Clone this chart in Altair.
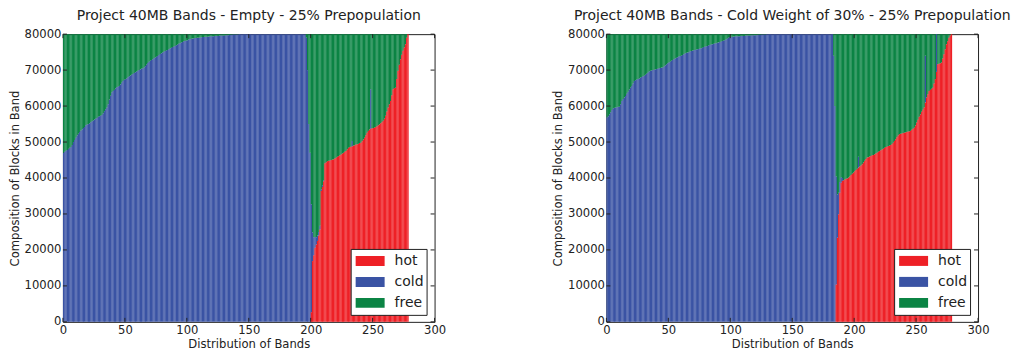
import altair as alt
import pandas as pd

CAPACITY = 80000
CATS = ["hot", "cold", "free"]
COLORS = ["#EE2026", "#3A53A4", "#0B8444"]
X_TICKS = [0, 50, 100, 150, 200, 250, 300]
Y_TICKS = [0, 10000, 20000, 30000, 40000, 50000, 60000, 70000, 80000]
TITLE_1 = "Project 40MB Bands - Empty - 25% Prepopulation"
TITLE_2 = "Project 40MB Bands - Cold Weight of 30% - 25% Prepopulation"

# ---------- Panel 1 (279 bands) ----------
P1_HOT = [0] * 200 + [
    2700, 16900, 18500, 20600, 21500, 22500, 24000, 25700, 36400, 37500, 39100,
] + [
    44100, 44400, 44700, 44800, 44900,
    45000, 45100, 45200, 45400, 45600,
    45900, 46100, 46300, 46500, 46800,
    47000, 47300, 47500, 48000, 48400,
    48600, 48700, 48800, 49000, 49100,
    49300, 49400, 49500, 49700, 49800,
    50200, 50700, 51200, 51900, 52600,
    53100, 53500, 53700, 53800, 53900,
    54000, 54200, 54400, 54700, 54900,
    55200, 55500, 55900, 56500, 57300,
    58500, 59600, 60500, 61400, 63000,
    64700, 65000, 65100, 67500, 69800,
    71500, 73000, 74300, 75400, 76300,
    77200, 79000, 80000,
]
P1_COLD = [
    47000, 47300, 47600, 47800, 48100,
    48400, 48600, 49200, 50000, 50600,
    51200, 51800, 52300, 52800, 53200,
    53500, 53900, 54200, 54700, 54900,
    55000, 55200, 55500, 55800, 56000,
    56300, 56500, 56700, 57000, 57200,
    57300, 57500, 58000, 58600, 59100,
    59600, 60500, 61800, 62900, 63800,
    64200, 64500, 64900, 65200, 65400,
    65600, 66000, 66500, 67000, 67300,
    67500, 67700, 68000, 68300, 68500,
    68700, 68900, 69200, 69400, 69600,
    69800, 70000, 70200, 70400, 70500,
    70700, 71100, 71500, 72000, 72300,
    72600, 72800, 73000, 73300, 73500,
    73700, 73900, 74200, 74500, 74700,
    74900, 75100, 75300, 75500, 75600,
    75800, 76000, 76200, 76400, 76500,
    76700, 76900, 77100, 77300, 77500,
    77700, 77800, 78000, 78100, 78200,
    78300, 78500, 78600, 78700, 78800,
    78800, 78900, 78900, 79000, 79000,
    79100, 79100, 79200, 79200, 79300,
    79300, 79300, 79300, 79400, 79400,
    79400, 79400, 79500, 79500, 79500,
    79500, 79600, 79600, 79600, 79600,
    79600, 79700, 79700, 79700, 79800,
    79800, 79800, 79900, 79900, 79900,
    79900, 79900, 80000, 80000, 80000,
] + [80000] * 51 + [
    79000, 70000, 55000, 47000, 30000, 8000, 5000, 3000,
    2000, 1500, 1000, 1000, 500, 500, 300,
] + [0] * 22 + [1500] + [0] * 14 + [11000] + [0] * 30

# ---------- Panel 2 (279 bands) ----------
P2_HOT = [0] * 185 + [10400, 23400, 29900, 35900, 38700, 39200] + [
    39400, 39600, 39800, 39900, 40100,
    40400, 40800, 41200, 41500, 41900,
    42200, 42600, 42900, 43200, 43500,
    43800, 44300, 44800, 45300, 45700,
    45800, 46000, 46100, 46300, 46400,
    46600, 46800, 47000, 47300, 47500,
    47700, 47900, 48100, 48400, 48600,
    48700, 48900, 49000, 49200, 49400,
    49800, 50300, 50800, 51300, 51800,
    52200, 52300, 52400, 52500, 52600,
    52700, 52800, 52900, 53000, 53100,
    53400, 53700, 54000, 54600, 55400,
    56200, 57000, 57700, 58400, 59000,
    59600, 61000, 62400, 63300, 64200,
    64500, 64800, 65100, 66300, 67500,
    69500, 71600, 71800, 71900, 72100,
    73200, 74400, 75800, 77200, 78000,
    79000, 79600, 80000,
]
P2_COLD = [
    56800, 57200, 57700, 58300, 58900,
    59400, 59500, 59600, 59700, 59800,
    59800, 60500, 61400, 62000, 62400,
    62800, 63400, 64000, 64600, 65100,
    65600, 66300, 67000, 67200, 67400,
    67500, 67700, 67900, 68100, 68300,
    68400, 68700, 69000, 69300, 69600,
    69800, 69900, 70000, 70100, 70200,
    70300, 70400, 70500, 70600, 70700,
    70700, 71000, 71300, 71600, 71900,
    72100, 72300, 72600, 72800, 73000,
    73200, 73400, 73600, 73800, 73900,
    74000, 74200, 74400, 74600, 74800,
    74900, 75000, 75200, 75300, 75400,
    75500, 75600, 75700, 75800, 75900,
    76000, 76100, 76200, 76400, 76500,
    76600, 76700, 76900, 77000, 77100,
    77200, 77300, 77400, 77500, 77600,
    77700, 77800, 77900, 78100, 78200,
    78300, 78500, 78700, 79000, 79200,
    79300, 79300, 79300, 79400, 79400,
    79400, 79400, 79400, 79500, 79500,
    79500, 79500, 79600, 79600, 79600,
    79600, 79600, 79700, 79700, 79700,
    79700, 79700, 79800, 79800, 79800,
    79900, 79900, 79900, 79900, 80000,
] + [80000] * 53 + [
    74000, 60000, 30000, 12000, 6000, 3000, 1500, 800,
] + [0] * 12 + [3000] + [0] * 53 + [13000] + [0] * 8 + [10500] + [0] * 12

FONT = "DejaVu Sans"
TXT = "#222222"
W, H = 372, 288
BAR_WIDTH = 1.08


def long_table(hot, cold):
    rows = []
    for i, (h, c) in enumerate(zip(hot, cold)):
        f = max(CAPACITY - h - c, 0)
        for k, (cat, v) in enumerate(zip(CATS, (h, c, f))):
            rows.append({"band": i, "cat": cat, "ord": k, "v": v})
    return pd.DataFrame(rows)


def panel(hot, cold, title):
    df = long_table(hot, cold)
    xscale = alt.Scale(domain=[0, 300], nice=False, zero=False)
    yscale = alt.Scale(domain=[0, 80000], nice=False)
    xaxis = alt.Axis(values=X_TICKS, title="Distribution of Bands", labelFlush=False,
                     grid=False, ticks=False, domain=False, labelPadding=3, format="d",
                     titlePadding=2)
    yaxis = alt.Axis(values=Y_TICKS, title="Composition of Blocks in Band", grid=False,
                     ticks=False, domain=False, labelPadding=2, format="d", titlePadding=4)
    legend = alt.Legend(
        orient="none", legendX=288, legendY=215, title=None, fillColor="white",
        strokeColor="#222222", padding=2, labelFontSize=14, labelFont=FONT,
        labelColor=TXT, symbolType="M-1,-0.345H1V0.345H-1Z", symbolSize=841,
        symbolStrokeWidth=0, symbolOffset=3, labelOffset=10, rowPadding=1,
        clipHeight=20, cornerRadius=0,
    )
    bars = (
        alt.Chart(df)
        .transform_stack(stack="v", groupby=["band"], as_=["y0", "y1"],
                         sort=[alt.SortField("ord", order="ascending")])
        .transform_calculate(bx2=f"datum.band + {BAR_WIDTH}")
        .mark_bar(strokeWidth=0)
        .encode(
            x=alt.X("band:Q", scale=xscale, axis=xaxis),
            x2="bx2:Q",
            y=alt.Y("y0:Q", scale=yscale, axis=yaxis),
            y2="y1:Q",
            color=alt.Color("cat:N", scale=alt.Scale(domain=CATS, range=COLORS),
                            legend=legend),
        )
    )
    xt = pd.DataFrame({"t": X_TICKS})
    yt = pd.DataFrame({"t": Y_TICKS})
    tick_style = dict(color="#222222", strokeWidth=1)
    xb = alt.Chart(xt).mark_rule(**tick_style).encode(
        x=alt.X("t:Q", scale=xscale, axis=xaxis), y=alt.value(H), y2=alt.value(H - 4))
    xtop = alt.Chart(xt).mark_rule(**tick_style).encode(
        x=alt.X("t:Q", scale=xscale, axis=xaxis), y=alt.value(0), y2=alt.value(4))
    yl = alt.Chart(yt).mark_rule(**tick_style).encode(
        y=alt.Y("t:Q", scale=yscale, axis=yaxis), x=alt.value(0), x2=alt.value(4))
    yr = alt.Chart(yt).mark_rule(**tick_style).encode(
        y=alt.Y("t:Q", scale=yscale, axis=yaxis), x=alt.value(W), x2=alt.value(W - 4))
    return alt.layer(bars, xb, xtop, yl, yr).properties(
        width=W, height=H,
        title=alt.TitleParams(title, fontSize=14, font=FONT, fontWeight="normal",
                              color=TXT, anchor="middle", offset=5),
    )


chart = (
    alt.hconcat(panel(P1_HOT, P1_COLD, TITLE_1), panel(P2_HOT, P2_COLD, TITLE_2), spacing=105)
    .resolve_legend(color="independent")
    .properties(padding={"left": 0, "top": 0, "right": 0, "bottom": 0})
    .configure_view(stroke="#222222", strokeWidth=1)
    .configure_axis(labelFont=FONT, titleFont=FONT, labelFontSize=11.6, titleFontSize=11.6,
                    labelColor=TXT, titleColor=TXT, titleFontWeight="normal")
)

chart.save("out.html", embed_options={"renderer": "svg", "actions": False})
